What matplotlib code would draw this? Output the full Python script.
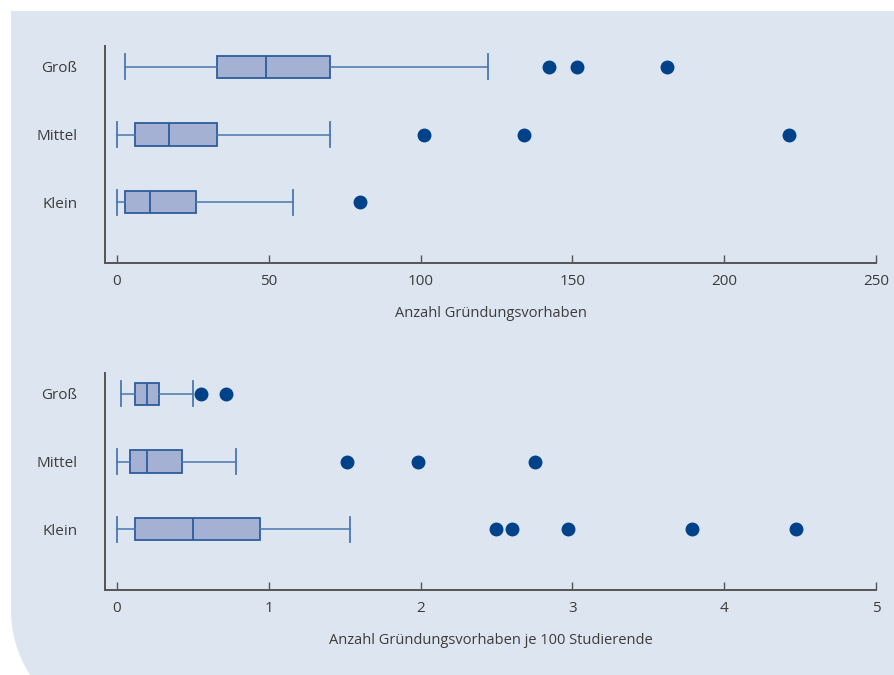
import matplotlib.pyplot as plt
import numpy as np
from matplotlib.patches import Polygon

plt.rcParams['font.family'] = ['Open Sans', 'DejaVu Sans']

BG = "#dce5f0"
BOX_FILL = "#a5b1d2"
BOX_EDGE = "#2c5c9e"
WHISK = "#4a77b0"
DOT = "#00428a"
TXT = "#3c3c3c"
SPINE = "#555555"

categories = ["Klein", "Mittel", "Groß"]

# Anzahl Gruendungsvorhaben: low whisker, Q1, median, Q3, high whisker
abs_low = [0, 0, 2.7]
abs_q1 = [2.7, 6, 32.8]
abs_med = [11, 17, 49.2]
abs_q3 = [26, 33, 70]
abs_high = [58, 70, 122.3]
abs_fliers = [[80], [101, 134, 221.3], [142.3, 151.5, 181.2]]

# je 100 Studierende
rel_low = [0, 0, 0.025]
rel_q1 = [0.12, 0.085, 0.12]
rel_med = [0.5, 0.2, 0.2]
rel_q3 = [0.94, 0.43, 0.28]
rel_high = [1.535, 0.785, 0.5]
rel_fliers = [[2.497, 2.6, 2.97, 3.79, 4.47], [1.515, 1.985, 2.755], [0.555, 0.72]]

abs_ticks = [0, 50, 100, 150, 200, 250]
rel_ticks = [0, 1, 2, 3, 4, 5]


def make_stats(low, q1, med, q3, high, fliers):
    stats = []
    for i in range(len(categories)):
        stats.append(dict(whislo=low[i], q1=q1[i], med=med[i], q3=q3[i],
                          whishi=high[i], fliers=fliers[i], label=categories[i]))
    return stats


fig = plt.figure(figsize=(8.95, 6.75), dpi=100)

# background panel with rounded bottom-left corner (pixel coords)
W, H = 895, 675
r = 120
cx, cy = 11 + r, 65
th = np.linspace(np.pi, np.pi + np.arcsin(65 / r), 30)
arc = np.column_stack([cx + r * np.cos(th), cy + r * np.sin(th)])
verts = [(11, H - 11), (W, H - 11), (W, 0)] + [(cx - np.sqrt(r**2 - cy**2), 0)] + arc[::-1].tolist()
verts = [(x / W, y / H) for x, y in verts]
fig.patches.append(Polygon(verts, closed=True, transform=fig.transFigure,
                           facecolor=BG, edgecolor='none', zorder=-10))


def draw(ax, stats, xlim, ticks, xlabel):
    ax.set_facecolor('none')
    ax.bxp(stats, positions=[1, 2, 3], widths=0.335, capwidths=0.37,
           orientation='horizontal', patch_artist=True,
           boxprops=dict(facecolor=BOX_FILL, edgecolor=BOX_EDGE, linewidth=1.3),
           medianprops=dict(color=BOX_EDGE, linewidth=1.3),
           whiskerprops=dict(color=WHISK, linewidth=1.1),
           capprops=dict(color=WHISK, linewidth=1.3),
           flierprops=dict(marker='o', markerfacecolor=DOT, markeredgecolor=DOT,
                           markersize=9, linestyle='none'))
    ax.set_xlim(*xlim)
    ax.set_ylim(0.1, 3.31)
    ax.set_xticks(ticks)
    ax.set_xticklabels([str(t) for t in ticks])
    ax.set_yticks([1, 2, 3])
    ax.set_yticklabels(categories)
    ax.tick_params(axis='x', direction='in', length=6, width=1, color=SPINE,
                   labelsize=11, labelcolor=TXT, pad=8)
    ax.tick_params(axis='y', length=0, labelsize=11, labelcolor=TXT, pad=20)
    for s in ['top', 'right']:
        ax.spines[s].set_visible(False)
    for s in ['left', 'bottom']:
        ax.spines[s].set_color(SPINE)
        ax.spines[s].set_linewidth(1.4)
    ax.set_xlabel(xlabel, fontsize=10.5, color=TXT, labelpad=12)


ax1 = fig.add_axes([105 / W, 1 - 263 / H, 771 / W, 217 / H])
draw(ax1, make_stats(abs_low, abs_q1, abs_med, abs_q3, abs_high, abs_fliers),
     (-3.95, 250), abs_ticks, "Anzahl Gründungsvorhaben")

ax2 = fig.add_axes([105 / W, 1 - 590 / H, 771 / W, 217 / H])
draw(ax2, make_stats(rel_low, rel_q1, rel_med, rel_q3, rel_high, rel_fliers),
     (-0.079, 5), rel_ticks, "Anzahl Gründungsvorhaben je 100 Studierende")

fig.savefig("out.png", dpi=100)
